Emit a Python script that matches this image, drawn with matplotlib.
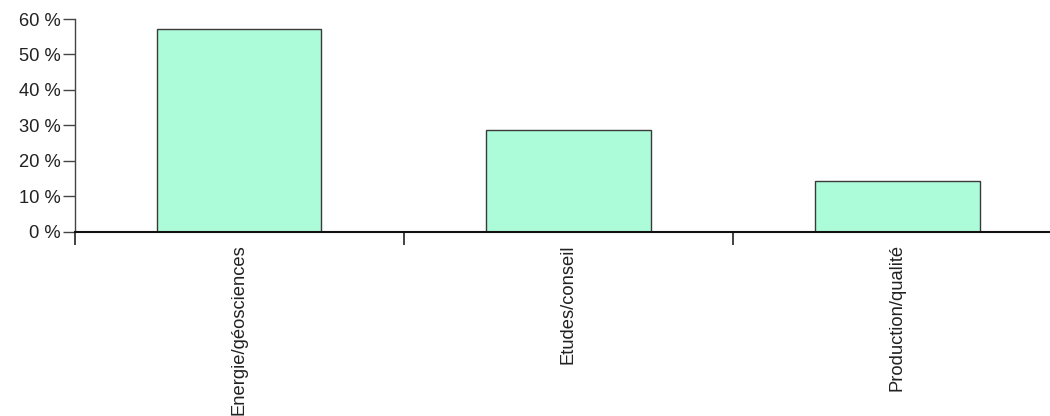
import matplotlib
matplotlib.use("Agg")
import matplotlib.pyplot as plt
from matplotlib.ticker import FixedLocator

categories = ["Energie/géosciences", "Etudes/conseil", "Production/qualité"]
values = [57.14, 28.57, 14.29]
yticks = [0, 10, 20, 30, 40, 50, 60]
ytick_labels = ["0 %", "10 %", "20 %", "30 %", "40 %", "50 %", "60 %"]

plt.rcParams['font.family'] = ['Liberation Sans', 'DejaVu Sans']

W, H = 1050, 416
fig = plt.figure(figsize=(W / 100, H / 100), dpi=100)
left, right, top, bottom = 74.5, 1062, 19, 231.5
ax = fig.add_axes([left / W, (H - bottom) / H, (right - left) / W, (bottom - top) / H])

x = list(range(len(categories)))
ax.bar(x, values, width=0.5, color="#acfcd9", edgecolor="#3a3a3a", linewidth=1)

ax.set_xlim(-0.5, len(categories) - 0.5)
ax.set_ylim(0, 60)
ax.set_yticks(yticks)
ax.set_yticklabels(ytick_labels, fontsize=13.2, color="#222222")

ax.xaxis.set_major_locator(FixedLocator([i - 0.5 for i in range(len(categories) + 1)]))
ax.xaxis.set_major_formatter(plt.NullFormatter())
ax.xaxis.set_minor_locator(FixedLocator(x))
ax.set_xticklabels(categories, minor=True, rotation=90, fontsize=13.2, color="#222222", va="top")
ax.tick_params(axis="x", which="minor", length=0, pad=9)
ax.tick_params(axis="x", which="major", length=9, width=1.2, direction="out", color="#222222")
ax.tick_params(axis="y", length=9, width=1, direction="out", color="#444444", pad=1)

for s in ["top", "right"]:
    ax.spines[s].set_visible(False)
ax.spines["left"].set_color("#444444")
ax.spines["bottom"].set_color("#111111")
ax.spines["bottom"].set_linewidth(1.5)
ax.spines["left"].set_linewidth(1)

fig.savefig("out.png", dpi=100)
